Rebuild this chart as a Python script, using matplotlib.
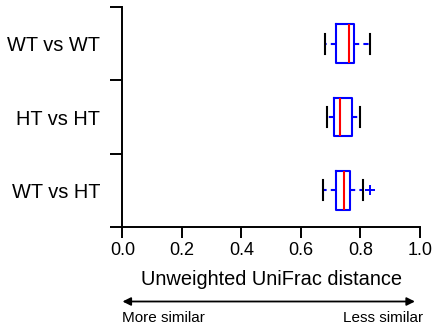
import numpy as np
import matplotlib
matplotlib.use("Agg")
import matplotlib.pyplot as plt
import matplotlib.transforms as mtransforms

plt.rcParams['font.family'] = ['Liberation Sans', 'DejaVu Sans']

# pairwise unweighted UniFrac distances, summary per comparison group
groups = ["WT vs WT", "HT vs HT", "WT vs HT"]
q1 = [0.717, 0.711, 0.716]
med = [0.760, 0.731, 0.743]
q3 = [0.777, 0.771, 0.764]
whislo = [0.681, 0.689, 0.673]
whishi = [0.832, 0.798, 0.807]
fliers = [[], [], [0.832]]

stats = []
for i, g in enumerate(groups):
    stats.append(dict(label=g, q1=q1[i], med=med[i], q3=q3[i],
                      whislo=whislo[i], whishi=whishi[i], fliers=fliers[i]))

fig = plt.figure(figsize=(4.35, 3.26), dpi=100)
ax = fig.add_axes([122.5 / 435, 1 - 227 / 326, (420 - 122.5) / 435, (227 - 7) / 326])

pos = np.arange(1, len(groups) + 1)
ax.bxp(stats, positions=pos, widths=0.53, capwidths=0.27, orientation='horizontal',
       boxprops=dict(color='blue', linewidth=1.5),
       medianprops=dict(color='red', linewidth=1.5),
       whiskerprops=dict(color='blue', linewidth=1.5, linestyle=(0, (2.5, 2))),
       capprops=dict(color='black', linewidth=1.5),
       flierprops=dict(marker='+', markeredgecolor='blue', markersize=7, markeredgewidth=1.4))

ax.set_xlim(0, 1.0)
ax.set_ylim(3.5, 0.5)
ax.set_xticks(np.arange(0, 1.01, 0.2))
ax.set_xticklabels([f"{v:.1f}" for v in np.arange(0, 1.01, 0.2)], fontsize=13)
ax.set_yticks(pos)
ax.set_yticklabels(groups, fontsize=14.4)
ax.set_yticks([0.5, 1.5, 2.5, 3.5], minor=True)
ax.tick_params(axis='y', which='major', length=0, pad=16)
ax.tick_params(axis='y', which='minor', length=9, width=1.4, direction='out')
ax.tick_params(axis='x', length=8, width=1.4, direction='out', pad=3)
ax.spines['top'].set_visible(False)
ax.spines['right'].set_visible(False)
ax.spines['left'].set_linewidth(1.4)
ax.spines['bottom'].set_linewidth(1.4)
ax.set_xlabel("Unweighted UniFrac distance", fontsize=14.4, labelpad=8)

# similarity direction arrow under the axis
trans = mtransforms.blended_transform_factory(ax.transData, fig.transFigure)
ax.annotate("", xy=(0.0, 1 - 301.5 / 326), xytext=(0.983, 1 - 301.5 / 326),
            xycoords=trans, textcoords=trans, annotation_clip=False,
            arrowprops=dict(arrowstyle='<|-|>', color='black', lw=1.3,
                            mutation_scale=12, shrinkA=0, shrinkB=0))
ax.text(0.0, 1 - 318 / 326, "More similar", transform=trans, fontsize=11,
        ha='left', va='center')
ax.text(1.01, 1 - 318 / 326, "Less similar", transform=trans, fontsize=11,
        ha='right', va='center')

fig.savefig("out.png", dpi=100)
